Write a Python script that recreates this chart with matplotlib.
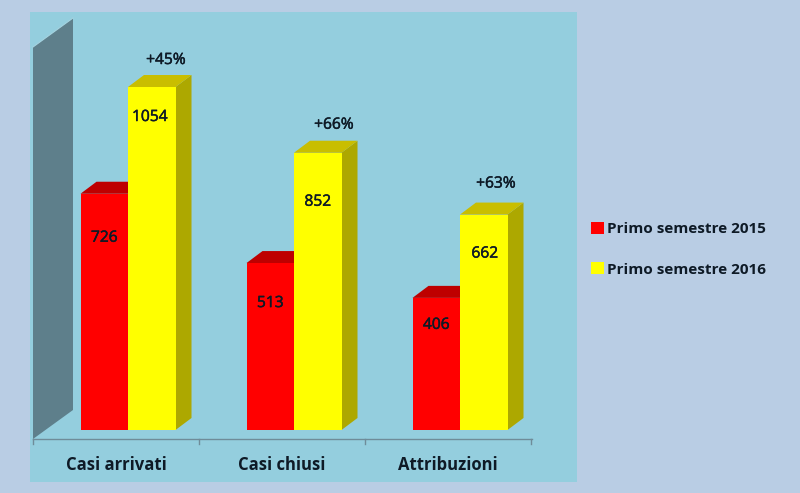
import matplotlib
matplotlib.use("Agg")
import matplotlib.pyplot as plt
import matplotlib.patheffects as pe
from matplotlib.patches import Polygon, Rectangle, Patch

categories = ["Casi arrivati", "Casi chiusi", "Attribuzioni"]
series_names = ["Primo semestre 2015", "Primo semestre 2016"]
values_2015 = [726, 513, 406]
values_2016 = [1054, 852, 662]
growth_labels = ["+45%", "+66%", "+63%"]

# layout (pixels in the 800x493 picture)
W, H = 800, 493
AX_L, AX_R, BASE, TOP_PX = 33, 532, 430, 87
DEPTH_X, DEPTH_Y = 16, 12
label_drop_2015 = [44, 40, 27]
label_drop_2016 = [30, 49, 39]
label_dx_2016 = [-2, 0, 1]
pct_dx = [14, 16, 12]
pct_rise = [27, 28, 31]

BG = "#B9CDE4"
PANEL = "#94CEDE"
TXT = "#0E1A26"
FONT = "Open Sans"
HEAVY = [pe.withStroke(linewidth=0.35, foreground=TXT)]

fig = plt.figure(figsize=(W / 100, H / 100), dpi=100, facecolor=BG)

def fx(p): return p / W
def fy(p): return 1 - p / H

fig.add_artist(Rectangle((fx(30), fy(482)), 547 / W, 470 / H, transform=fig.transFigure,
                         facecolor=PANEL, edgecolor="none", zorder=0))

ax = fig.add_axes([fx(AX_L), fy(BASE), (AX_R - AX_L) / W, (BASE - TOP_PX) / H])
ax.patch.set_alpha(0)
ax.axis("off")
ppx = 166.0                      # pixels per category
ax.set_xlim(-(128 - AX_L) / ppx, (AX_R - 128) / ppx)
ax.set_ylim(0, 1054)
ppy = (BASE - TOP_PX) / 1054     # pixels per value unit
dx, dy = DEPTH_X / ppx, DEPTH_Y / ppy
bw = 47.5 / ppx

def X(p): return (p - 128) / ppx
def Y(p): return (BASE - p) / ppy

def poly(pts, color, z):
    ax.add_patch(Polygon(pts, closed=True, facecolor=color, edgecolor="none",
                         clip_on=False, zorder=z))

# back wall
poly([(X(33), Y(47)), (X(73), Y(18)), (X(73), Y(410)), (X(33), Y(439))], "#5E7F8B", 1)
ax.plot([X(33), X(73)], [Y(47), Y(18)], color="#A4D3E0", lw=0.8, clip_on=False, zorder=1)

# category axis
ax.plot([X(33), X(532)], [Y(438.5)] * 2, color="#6F8C99", lw=1, clip_on=False, zorder=1)
for t in [33, 198.5, 365, 531]:
    ax.plot([X(t), X(t)], [Y(438.5), Y(444)], color="#6F8C99", lw=1, clip_on=False, zorder=1)

def bar3d(left, v, front, top, side, z):
    right = left + bw
    poly([(right, 0), (right + dx, dy), (right + dx, v + dy), (right, v)], side, z)
    poly([(left, v), (left + dx, v + dy), (right + dx, v + dy), (right, v)], top, z)
    ax.bar(left, v, width=bw, align="edge", color=front, zorder=z + 0.1, clip_on=False)

for i, cat in enumerate(categories):
    bar3d(i - bw, values_2015[i], "#FF0000", "#BE0000", "#A80000", 2)
    bar3d(i, values_2016[i], "#FFFF00", "#C9BE00", "#ADA800", 3)
    for txt, xx, yy in [
        (str(values_2015[i]), i - bw / 2, values_2015[i] - label_drop_2015[i] / ppy),
        (str(values_2016[i]), i + bw / 2 + label_dx_2016[i] / ppx, values_2016[i] - label_drop_2016[i] / ppy),
        (growth_labels[i], i + bw / 2 + pct_dx[i] / ppx, values_2016[i] + pct_rise[i] / ppy),
    ]:
        ax.text(xx, yy, txt, ha="center", va="center", fontsize=11.2, color=TXT, family=FONT,
                zorder=5, path_effects=HEAVY)
    ax.text(X(116 + 166 * i), Y(465), cat, ha="center", va="center", fontsize=12,
            fontweight="bold", color=TXT, family=FONT, clip_on=False)

handles = [Patch(facecolor="#FF0000", edgecolor="none"), Patch(facecolor="#FFFF00", edgecolor="none")]
leg = fig.legend(handles, series_names, loc="upper left",
                 bbox_to_anchor=(fx(586), fy(217)), frameon=False,
                 prop={"family": FONT, "size": 11.0, "weight": "bold"},
                 handlelength=0.85, handleheight=0.85, handletextpad=0.2,
                 labelspacing=1.72, borderpad=0.3, borderaxespad=0)
for t in leg.get_texts():
    t.set_color(TXT)

fig.savefig("out.png", dpi=100, facecolor=BG)
